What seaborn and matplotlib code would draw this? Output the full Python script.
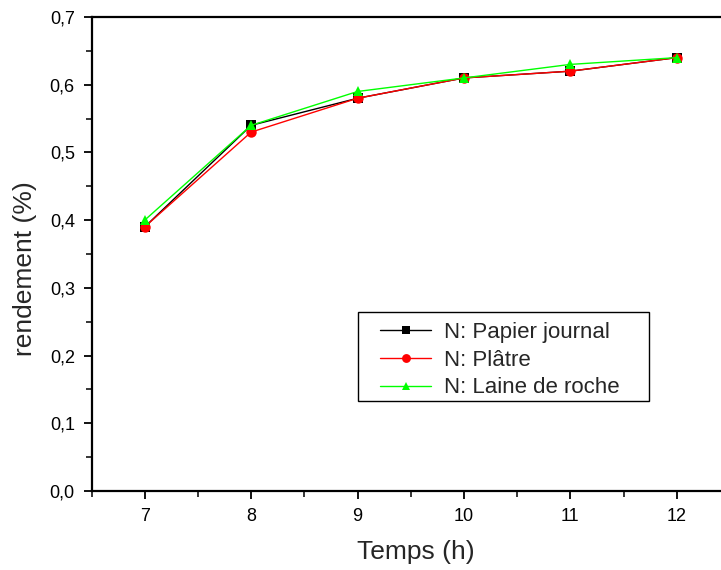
import numpy as np
import pandas as pd
import matplotlib
matplotlib.use("Agg")
import matplotlib.pyplot as plt
import seaborn as sns
from matplotlib.patches import Rectangle
from matplotlib.ticker import MultipleLocator, FuncFormatter

sns.set_style("white")
plt.rcParams.update({
    "font.family": ["Liberation Sans", "DejaVu Sans"],
    "font.size": 12,
})

temps = [7, 8, 9, 10, 11, 12]
papier = [0.39, 0.54, 0.58, 0.61, 0.62, 0.64]
platre = [0.39, 0.53, 0.58, 0.61, 0.62, 0.64]
laine = [0.40, 0.54, 0.59, 0.61, 0.63, 0.64]
series = ["N: Papier journal", "N: Plâtre", "N: Laine de roche"]
colors = ["#000000", "#ff0000", "#00ff00"]
markers = ["s", "o", "^"]

df = pd.DataFrame({
    "temps": temps * 3,
    "rendement": papier + platre + laine,
    "serie": [series[0]] * 6 + [series[1]] * 6 + [series[2]] * 6,
})

fig = plt.figure(figsize=(7.21, 5.70), dpi=100)
# axes run past the right edge, like the cropped original
ax = fig.add_axes([91.5 / 721, 1 - 491 / 570, (730 - 91.5) / 721, (491 - 17) / 570])

for name, col, mk in zip(series, colors, markers):
    sub = df[df["serie"] == name]
    sns.lineplot(data=sub, x="temps", y="rendement", ax=ax, color=col,
                 marker=mk, markersize=7.5, markeredgewidth=0, linewidth=1,
                 label=name)

ax.set_xlim(6.5, 12.5)
ax.set_ylim(0, 0.7)
ax.xaxis.set_major_locator(MultipleLocator(1))
ax.xaxis.set_minor_locator(MultipleLocator(0.5))
ax.yaxis.set_major_locator(MultipleLocator(0.1))
ax.yaxis.set_minor_locator(MultipleLocator(0.05))
ax.yaxis.set_major_formatter(FuncFormatter(lambda v, p: f"{v:.1f}".replace(".", ",")))
ax.tick_params(axis="both", which="major", direction="out", length=6, width=1.3,
               labelsize=13, left=True, bottom=True, colors="black", pad=6)
ax.tick_params(axis="both", which="minor", direction="out", length=4, width=1.3,
               left=True, bottom=True)
for s in ["left", "bottom", "top", "right"]:
    ax.spines[s].set_linewidth(1.6)
    ax.spines[s].set_color("black")

ax.set_xlabel("Temps (h)", fontsize=19)
ax.set_ylabel("rendement (%)", fontsize=19)
ax.xaxis.set_label_coords(0.508, -0.103)
ax.yaxis.set_label_coords(-0.085, 0.47)

# legend without its own frame, box drawn separately for Origin-like padding
leg = ax.legend(loc="upper left", bbox_to_anchor=((380 - 91.5) / 638.5, (491 - 322) / 474),
                fontsize=16, frameon=False, handlelength=2.3, handletextpad=0.6,
                borderpad=0, labelspacing=0.3, borderaxespad=0, markerscale=0.85)
ax.add_patch(Rectangle(((358 - 91.5) / 638.5, (491 - 401) / 474),
                       (649 - 358) / 638.5, (401 - 312) / 474,
                       transform=ax.transAxes, fill=False, edgecolor="black",
                       linewidth=1, zorder=5))

fig.savefig("out.png", dpi=100)
